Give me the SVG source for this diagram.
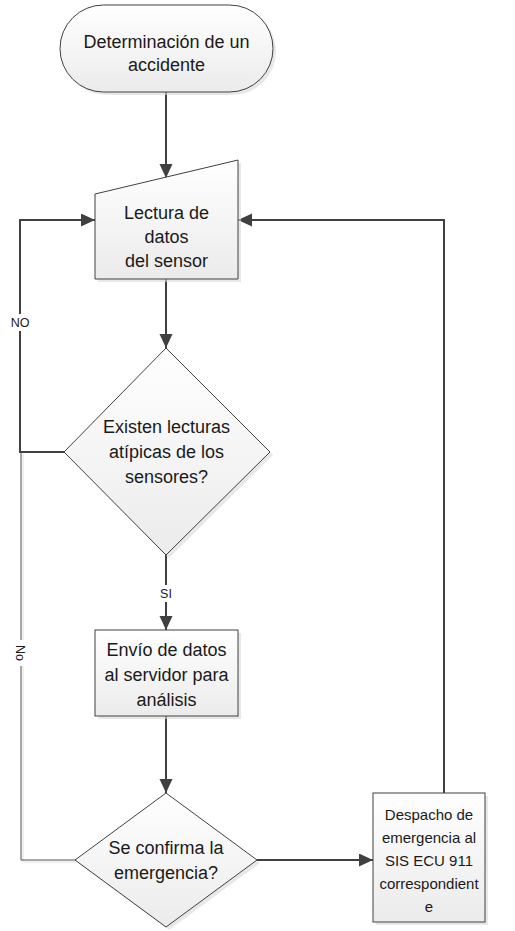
<svg xmlns="http://www.w3.org/2000/svg" width="515" height="931" viewBox="0 0 515 931">
<defs>
<linearGradient id="g" x1="0" y1="0" x2="0" y2="1">
<stop offset="0" stop-color="#ffffff"/>
<stop offset="1" stop-color="#ebebeb"/>
</linearGradient>
<marker id="ah" markerUnits="userSpaceOnUse" markerWidth="16" markerHeight="14" refX="14" refY="6.5" orient="auto">
<path d="M0,0 L14,6.5 L0,13 Z" fill="#404040"/>
</marker>
</defs>
<style>
.shape{fill:url(#g);stroke:#404040;stroke-width:1}
.shadow{fill:#d9d9d9;stroke:none;opacity:0.6}
.t{font-family:"Liberation Sans",Arial,sans-serif;font-size:18px;fill:#1a1a1a;text-anchor:middle}
.ts{font-family:"Liberation Sans",Arial,sans-serif;font-size:15px;fill:#1a1a1a;text-anchor:middle}
.lbl{font-family:"Liberation Sans",Arial,sans-serif;font-size:12.5px;fill:#1a1a1a;text-anchor:middle}
.c{fill:none;stroke:#404040;stroke-width:2}
.cthin{fill:none;stroke:#505050;stroke-width:1}
</style>
<rect width="515" height="931" fill="#ffffff"/>
<g id="connectors">
<path class="c" d="M166,92 L166,178" marker-end="url(#ah)"/>
<path class="c" d="M166,279 L166,348" marker-end="url(#ah)"/>
<path class="c" d="M166,555 L166,630" marker-end="url(#ah)"/>
<path class="c" d="M166,716 L166,793" marker-end="url(#ah)"/>
<path class="c" d="M257,860 L373,860" marker-end="url(#ah)"/>
<path class="c" d="M444,793 L444,220 L238,220" marker-end="url(#ah)"/>
<path class="c" d="M64,452 L20,452 L20,220 L95,220" marker-end="url(#ah)"/>
<path d="M76,862 L23,862 L23,454" fill="none" stroke="#ececec" stroke-width="1.5"/>
<path class="cthin" d="M75,860 L21,860 L21,452"/>
<rect x="8" y="314" width="25" height="17" fill="#ffffff"/>
<text class="lbl" x="20" y="327">NO</text>
<rect x="155" y="585" width="22" height="17" fill="#ffffff"/>
<text class="lbl" x="166" y="598">SI</text>
<rect x="12" y="640" width="18" height="26" fill="#ffffff"/>
<text class="lbl" transform="translate(16,653) rotate(90)" x="0" y="0">No</text>
</g>
<g id="n1">
<rect class="shadow" x="63" y="8" width="213" height="87" rx="43.5"/>
<rect class="shape" x="60" y="5" width="213" height="87" rx="43.5"/>
<text class="t" x="166.5" y="48">Determinación de un</text>
<text class="t" x="166.5" y="71">accidente</text>
</g>
<g id="n2">
<polygon class="shadow" points="98,197 241,163 241,282 98,282"/>
<polygon class="shape" points="95,194 238,160 238,279 95,279"/>
<text class="t" x="166.5" y="219">Lectura de</text>
<text class="t" x="166.5" y="243">datos</text>
<text class="t" x="166.5" y="267">del sensor</text>
</g>
<g id="n3">
<polygon class="shadow" points="169,351 273,455 169,558 67,455"/>
<polygon class="shape" points="166,348 270,452 166,555 64,452"/>
<text class="t" x="166.5" y="433">Existen lecturas</text>
<text class="t" x="166.5" y="458">atípicas de los</text>
<text class="t" x="166.5" y="483">sensores?</text>
</g>
<g id="n4">
<rect class="shadow" x="98" y="633" width="143" height="86"/>
<rect class="shape" x="95" y="630" width="143" height="86"/>
<text class="t" x="166.5" y="656">Envío de datos</text>
<text class="t" x="166.5" y="681">al servidor para</text>
<text class="t" x="166.5" y="706">análisis</text>
</g>
<g id="n5">
<polygon class="shadow" points="169,796 260,863 169,930 78,863"/>
<polygon class="shape" points="166,793 257,860 166,927 75,860"/>
<text class="t" x="166" y="854">Se confirma la</text>
<text class="t" x="166" y="879">emergencia?</text>
</g>
<g id="n6">
<rect class="shadow" x="376" y="796" width="112" height="129"/>
<rect class="shape" x="373" y="793" width="112" height="129"/>
<text class="ts" x="429" y="820">Despacho de</text>
<text class="ts" x="429" y="843">emergencia al</text>
<text class="ts" x="429" y="866">SIS ECU 911</text>
<text class="ts" x="429" y="889">correspondient</text>
<text class="ts" x="429" y="912">e</text>
</g>
</svg>
